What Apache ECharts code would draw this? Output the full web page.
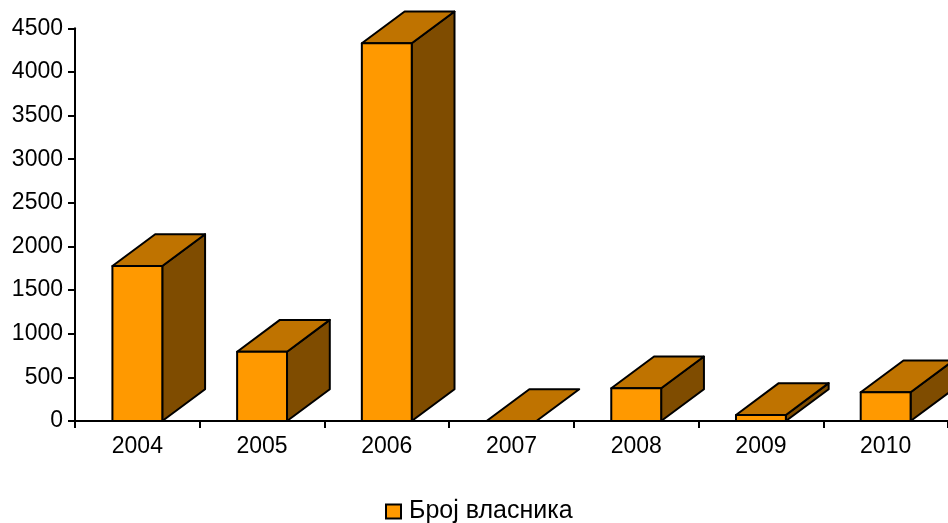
<!DOCTYPE html>
<html>
<head>
<meta charset="utf-8">
<script src="https://cdn.jsdelivr.net/npm/echarts@6/dist/echarts.min.js"></script>
<style>html,body{margin:0;padding:0;background:#fff;}#c{width:948px;height:523px;}</style>
</head>
<body>
<div id="c"></div>
<script>
const categories = ['2004', '2005', '2006', '2007', '2008', '2009', '2010'];
const owners = [1776, 794, 4328, 0, 375, 69, 329];
const seriesName = 'Број власника';
const yTicks = { min: 0, max: 4500, interval: 500 };

const FONT = '"Liberation Sans", Arial, sans-serif';
const chart = echarts.init(document.getElementById('c'), null, { renderer: 'canvas' });

function renderItem(params, api) {
  const idx = api.value(0);
  const val = api.value(1);
  const top = api.coord([idx, val]);
  const base = api.coord([idx, 0]);
  const band = api.size([1, 0])[0];
  const w = band * 0.4;
  const dx = band * 0.343;
  const dy = -band * 0.255;
  const x0 = top[0] - w / 2, x1 = top[0] + w / 2;
  const yt = top[1], yb = base[1];
  const line = { stroke: '#000', lineWidth: 2, lineJoin: 'round' };
  const children = [];
  if (yb - yt > 0.5) {
    children.push({
      type: 'polygon',
      shape: { points: [[x1, yt], [x1 + dx, yt + dy], [x1 + dx, yb + dy], [x1, yb]] },
      style: Object.assign({ fill: '#7F4C00' }, line)
    });
  }
  children.push({
    type: 'polygon',
    shape: { points: [[x0, yt], [x1, yt], [x1 + dx, yt + dy], [x0 + dx, yt + dy]] },
    style: Object.assign({ fill: '#BF7300' }, line)
  });
  if (yb - yt > 0.5) {
    children.push({
      type: 'rect',
      shape: { x: x0, y: yt, width: w, height: yb - yt },
      style: Object.assign({ fill: '#FF9900' }, line)
    });
  }
  return { type: 'group', children: children };
}

chart.setOption({
  animation: false,
  backgroundColor: '#fff',
  grid: { left: 75, top: 28.3, width: 878.5, height: 392.7 },
  legend: {
    data: [seriesName],
    left: 380,
    top: 494,
    icon: 'rect',
    itemWidth: 15,
    itemHeight: 14,
    itemGap: 8,
    textStyle: { fontFamily: FONT, fontSize: 25, color: '#000', padding: [0, 0, 0, 3] }
  },
  xAxis: {
    type: 'category',
    data: categories,
    boundaryGap: true,
    axisLine: { lineStyle: { color: '#000', width: 2 } },
    axisTick: { show: true, length: 7, lineStyle: { color: '#000', width: 2 } },
    axisLabel: { color: '#000', fontFamily: FONT, fontSize: 23, margin: 14 },
    splitLine: { show: false }
  },
  yAxis: {
    type: 'value',
    min: yTicks.min,
    max: yTicks.max,
    interval: yTicks.interval,
    axisLine: { show: true, lineStyle: { color: '#000', width: 2 } },
    axisTick: { show: true, length: 7, lineStyle: { color: '#000', width: 2 } },
    axisLabel: { color: '#000', fontFamily: FONT, fontSize: 23, margin: 12, formatter: v => String(v) },
    splitLine: { show: false }
  },
  series: [{
    name: seriesName,
    type: 'custom',
    renderItem: renderItem,
    clip: false,
    itemStyle: { color: '#FF9900', borderColor: '#000', borderWidth: 2 },
    encode: { x: 0, y: 1 },
    data: owners.map((v, i) => [i, v])
  }]
});
</script>
</body>
</html>
